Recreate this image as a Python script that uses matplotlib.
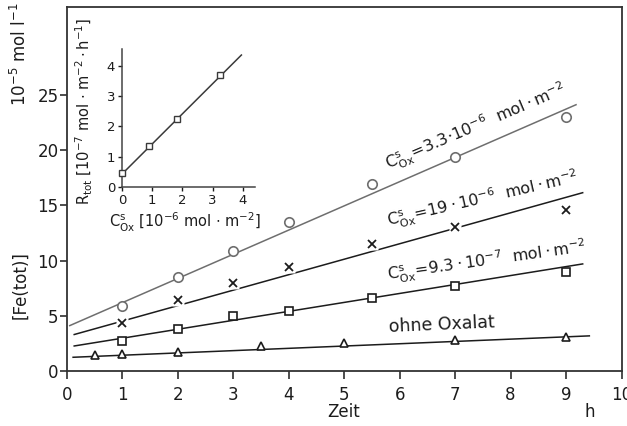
import matplotlib
matplotlib.use("Agg")
import matplotlib.pyplot as plt
import numpy as np

plt.rcParams['font.family'] = ['DejaVu Sans']
plt.rcParams['mathtext.fontset'] = 'dejavusans'

# ---- data (main plot) ----
time_circ = [1, 2, 3, 4, 5.5, 7, 9]
fe_circ = [5.9, 8.5, 10.85, 13.5, 16.9, 19.4, 23.0]
time_cross = [1, 2, 3, 4, 5.5, 7, 9]
fe_cross = [4.3, 6.4, 8.0, 9.4, 11.5, 13.0, 14.6]
time_sq = [1, 2, 3, 4, 5.5, 7, 9]
fe_sq = [2.7, 3.8, 5.0, 5.45, 6.6, 7.7, 9.0]
time_tri = [0.5, 1, 2, 3.5, 5, 7, 9]
fe_tri = [1.45, 1.5, 1.75, 2.3, 2.57, 2.8, 3.1]

# regression lines: intercept, slope, x-range
fit_intercept = [4.0, 3.12, 2.16, 1.22]
fit_slope = [2.19, 1.40, 0.81, 0.208]
fit_xstart = [0.05, 0.13, 0.13, 0.11]
fit_xend = [9.18, 9.3, 9.3, 9.42]

x_ticks = [0, 1, 2, 3, 4, 5, 6, 7, 8, 9, 10]
y_ticks = [0, 5, 10, 15, 20, 25]

labels = [
    r"$\mathrm{C}^{\mathrm{s}}_{\mathrm{Ox}}\!=\!3.3{\cdot}10^{-6}\ \ \mathrm{mol}\cdot\mathrm{m}^{-2}$",
    r"$\mathrm{C}^{\mathrm{s}}_{\mathrm{Ox}}\!=\!19\cdot10^{-6}\ \ \mathrm{mol}\cdot\mathrm{m}^{-2}$",
    r"$\mathrm{C}^{\mathrm{s}}_{\mathrm{Ox}}\!=\!9.3\cdot10^{-7}\ \ \mathrm{mol}\cdot\mathrm{m}^{-2}$",
    "ohne Oxalat",
]

# ---- data (inset) ----
inset_c = [0, 0.9, 1.83, 3.25]
inset_r = [0.44, 1.34, 2.25, 3.7]
inset_fit_intercept = 0.42
inset_fit_slope = 1.0
inset_fit_range = (0.0, 3.95)
inset_ticks = [0, 1, 2, 3, 4]

fig = plt.figure(figsize=(6.27, 4.26), dpi=100)
ax = fig.add_axes([67 / 627, 55 / 426, 554.5 / 627, 364 / 426])

dark = '#1c1c1c'
grey = '#6e6e6e'
series = [
    (time_circ, fe_circ, 'o', 6.8, grey),
    (time_cross, fe_cross, 'x', 6.0, dark),
    (time_sq, fe_sq, 's', 5.2, dark),
    (time_tri, fe_tri, '^', 5.4, dark),
]
for i, (tx, fy, mk, ms, col) in enumerate(series):
    xs = np.array([fit_xstart[i], fit_xend[i]])
    ax.plot(xs, fit_intercept[i] + fit_slope[i] * xs, color=col, lw=1.1, zorder=2)
    if mk == 'x':
        ax.plot(tx, fy, linestyle='none', marker='s', ms=ms + 2, mfc='white',
                mec='none', zorder=3)
        ax.plot(tx, fy, linestyle='none', marker='x', ms=ms, mec=col, mew=1.3, zorder=4)
    else:
        ax.plot(tx, fy, linestyle='none', marker=mk, ms=ms, mfc='white', mec=col,
                mew=1.2, zorder=4)

ax.set_xlim(0, 10)
ax.set_ylim(0, 32.95)
ax.set_xticks(x_ticks)
ax.set_yticks(y_ticks)
ax.tick_params(axis='x', direction='out', length=6, width=1.1, pad=5, labelsize=12,
               colors=dark)
ax.tick_params(axis='y', direction='out', length=5, width=1.1, pad=1, labelsize=12,
               colors=dark)
for sp in ax.spines.values():
    sp.set_linewidth(1.3)
    sp.set_color('#333333')

# curve labels
label_pos = [(5.79, 18.2, 23), (5.79, 13.1, 13), (5.79, 8.15, 8), (5.81, 3.55, 2.5)]
label_size = [11.5, 11.5, 11.5, 12.5]
for s, (lx, ly, rot), fs in zip(labels, label_pos, label_size):
    ax.text(lx, ly, s, rotation=rot, rotation_mode='anchor', ha='left',
            va='baseline', fontsize=fs, color=dark)

# axis labels
fig.text(20 / 627, 1 - 285 / 426, "[Fe(tot)]", rotation=90, ha='center', va='center',
         fontsize=12, color=dark)
fig.text(20 / 627, 1 - 54 / 426, r"$10^{-5}$ mol l$^{-1}$", rotation=90, ha='center',
         va='center', fontsize=12, color=dark)
fig.text(344 / 627, 1 - 417 / 426, "Zeit", ha='center', va='baseline', fontsize=12,
         color=dark)
fig.text(590 / 627, 1 - 417 / 426, "h", ha='center', va='baseline', fontsize=12,
         color=dark)

# ---- inset ----
ins = fig.add_axes([122 / 627, 1 - 186.7 / 426, 133 / 627, 137.4 / 426])
ins.patch.set_alpha(0)
xs = np.array(inset_fit_range)
ins.plot(xs, inset_fit_intercept + inset_fit_slope * xs, color='#3a3a3a', lw=1.1,
         zorder=2)
ins.plot(inset_c, inset_r, linestyle='none', marker='s', ms=4.2, mfc='white',
         mec='#3a3a3a', mew=1.0, zorder=3, clip_on=False)
ins.set_xlim(0, 4.4)
ins.set_ylim(0, 4.56)
ins.set_xticks(inset_ticks)
ins.set_yticks(inset_ticks)
ins.spines['top'].set_visible(False)
ins.spines['right'].set_visible(False)
for sp in ('left', 'bottom'):
    ins.spines[sp].set_linewidth(1.1)
    ins.spines[sp].set_color('#444444')
ins.tick_params(axis='both', direction='out', length=3, width=1.0, pad=2,
                labelsize=9.5, colors=dark)
ins.set_xlabel(r"$\mathrm{C}^{\mathrm{s}}_{\mathrm{Ox}}$ [$10^{-6}$ mol $\cdot$ m$^{-2}$]",
               fontsize=10.5, color=dark)
ins.xaxis.set_label_coords(0.47, -0.175)
ins.set_ylabel(r"$\mathrm{R}_{\mathrm{tot}}$ [$10^{-7}$ mol $\cdot$ m$^{-2}\cdot$h$^{-1}$]",
               fontsize=10.5, color=dark)
ins.yaxis.set_label_coords(-0.2, 0.55)

fig.savefig('out.png', dpi=100)
